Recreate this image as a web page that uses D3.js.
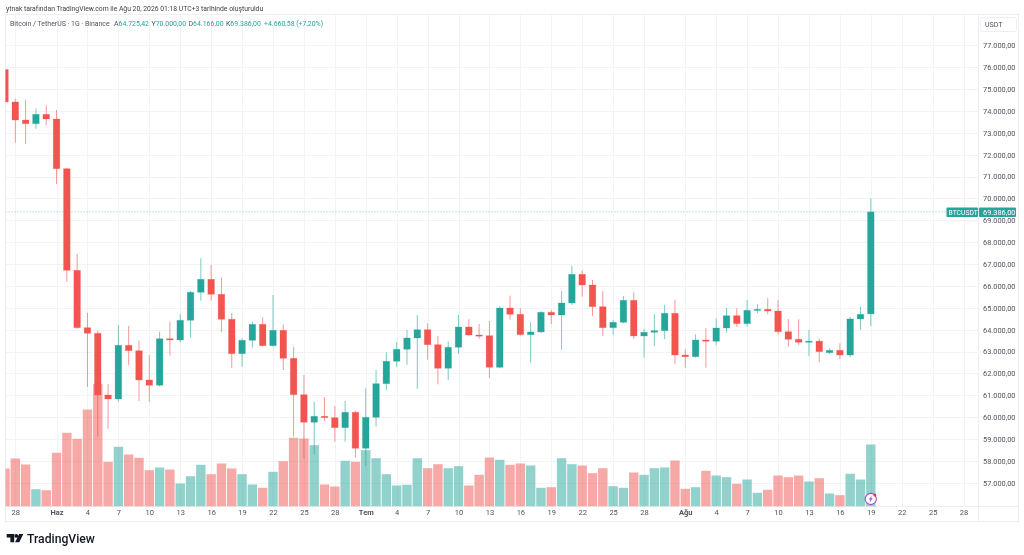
<!DOCTYPE html>
<html>
<head>
<meta charset="utf-8">
<script src="https://cdn.jsdelivr.net/npm/d3@7/dist/d3.min.js"></script>
<style>
  html, body { margin: 0; padding: 0; background: #fff; }
  svg { display: block; filter: blur(.3px); }
  text { font-family: Roboto, "Open Sans", sans-serif; fill: #50535e; }
  .axis path, .axis line { display: none; }
</style>
</head>
<body>
<div id="chart"></div>
<script>
// daily candles, 27 May - 19 Aug 2026
var startDay = '2026-05-27', endDay = '2026-08-20';
var opens = [75894,74409,73586,73417,73846,73632,71360,66717,64094,63838,61018,60836,63290,63043,61704,61462,63591,63532,64432,65712,66306,65620,64478,62906,63518,64249,63272,63975,62696,61032,59771,60045,59981,59524,60228,58583,59999,61535,62559,63107,63623,64003,63317,62239,63198,64126,63760,63729,62284,64994,64706,63774,63898,64798,64674,65223,66534,66045,65054,64094,64341,65346,63715,63884,63957,64752,62846,62769,63532,63473,64080,64643,64277,64889,64935,64857,63911,63564,63440,63480,62950,63061,62846,64492,64725];
var highs = [75900,74559,74500,74102,74258,74043,71400,67462,64766,63957,61521,64217,64172,63500,62846,63911,64368,64720,65771,67266,66959,66397,64766,63610,64368,64569,65588,64231,63212,61932,60712,60927,60516,60744,60300,61325,62161,62970,63427,63989,64674,64295,63715,63473,64674,64478,64263,64400,65072,65557,64981,64341,64840,64903,65771,66928,66699,66274,65771,64446,65543,65712,64048,64720,65145,65374,63121,63792,64067,64524,64994,64981,65360,65163,65451,65360,64492,64478,63989,63591,63153,63381,64583,65040,70000];
var lows = [74400,72549,72489,73188,73357,70661,66196,64050,61384,59113,59465,60712,62376,60744,60712,61400,62815,63409,63655,65328,65328,63898,62252,62312,63180,63230,63230,62161,59113,58107,58308,59830,58884,58884,58171,57774,59570,61247,62312,62403,61293,62632,61507,61704,62892,63720,63591,61809,62240,64460,63730,62495,63860,64263,63075,65131,65511,64629,63715,63774,64295,63578,62723,63258,63578,62435,62266,62730,62266,63290,63866,64126,64140,64752,64706,63774,63226,63303,62801,62513,62892,62664,62741,64003,64166];
var closes = [74409,73586,73417,73846,73632,71360,66717,64094,63838,61018,60836,63290,63043,61704,61462,63591,63532,64432,65712,66306,65620,64478,62906,63518,64249,63272,63975,62696,61032,59771,60045,59981,59524,60228,58583,59999,61535,62559,63107,63623,64003,63317,62239,63198,64126,63760,63729,62284,64994,64706,63774,63898,64798,64674,65223,66534,66045,65054,64094,64341,65346,63715,63884,63957,64752,62846,62769,63532,63473,64080,64643,64277,64889,64935,64857,63911,63564,63427,63480,62997,63061,62846,64492,64706,69386];
var volumes = [38,48,42,17.3,16.3,53.7,73.7,67.7,97,122.7,44.7,59.7,52,48.7,36.3,39,37,23,30.3,41.7,32.3,43,38,32.3,22,18.7,34.7,45.3,68.7,68,61.3,22,20,45.7,44.7,56.3,48.3,32.3,21,21.7,48.3,38.3,42.3,38.3,40.3,21,31.7,49,46.7,41.7,43,41,18.7,19.3,48.3,42.3,41,33.3,38.3,20.3,18.7,34,31.7,38.3,39,46,17.7,19.3,35.7,31,29.3,22.7,27,13.7,16.7,31,29.3,31,25,28.3,13,11.3,32.7,27,62];

var priceTicks = d3.range(57000, 78000, 1000);
var tickDays = ['2026-05-28','2026-06-01','2026-06-04','2026-06-07','2026-06-10','2026-06-13','2026-06-16','2026-06-19','2026-06-22','2026-06-25','2026-06-28','2026-07-01','2026-07-04','2026-07-07','2026-07-10','2026-07-13','2026-07-16','2026-07-19','2026-07-22','2026-07-25','2026-07-28','2026-08-01','2026-08-04','2026-08-07','2026-08-10','2026-08-13','2026-08-16','2026-08-19','2026-08-22','2026-08-25','2026-08-28'];
var tickLabels = ['28','Haz','4','7','10','13','16','19','22','25','28','Tem','4','7','10','13','16','19','22','25','28','Ağu','4','7','10','13','16','19','22','25','28'];

var lastPrice = 69386, lastOpen = 64725.42, lastHigh = 70000, lastLow = 64166, lastChange = 4660.58, lastPct = 7.20;

var UP = '#26a69a', DOWN = '#f25450', VOLDOWN = '#ef5350', GRID = '#f2f3f5', BORDER = '#eceef1';
var width = 1024, height = 555;
var pane = {left: 5.5, top: 14.5, right: 978.5, bottom: 506.5, outer: 1018, foot: 521.5};

var tr = d3.formatLocale({decimal: ',', thousands: '.', grouping: [3], currency: ['', '']});
var money = tr.format(',.2f');
var parseDay = d3.utcParse('%Y-%m-%d');

var days = d3.utcDay.range(parseDay(startDay), parseDay(endDay));
var tickDates = tickDays.map(parseDay);

var x = d3.scaleUtc().domain([days[0], days[days.length - 1]]).range([5, 870.8]);
var y = d3.scaleLinear().domain([57000, 77000]).range([482.9, 45.3]);
var v = d3.scaleLinear().domain([0, 100]).range([pane.bottom, pane.bottom - 100]);

var candles = days.map(function(d, i){
    return {day: d, o: opens[i], h: highs[i], l: lows[i], c: closes[i], vol: volumes[i], up: closes[i] >= opens[i]};
});

var svg = d3.select('#chart').append('svg').attr('width', width).attr('height', height);

svg.append('defs').append('clipPath').attr('id', 'pane')
    .append('rect')
    .attr('x', pane.left).attr('y', pane.top)
    .attr('width', pane.right - pane.left).attr('height', pane.bottom - pane.top);

// grid
var grid = svg.append('g').attr('stroke', GRID).attr('shape-rendering', 'crispEdges');
grid.selectAll('line.h').data(priceTicks).enter().append('line')
    .attr('x1', pane.left).attr('x2', pane.right)
    .attr('y1', function(d){ return Math.round(y(d)) + .5; })
    .attr('y2', function(d){ return Math.round(y(d)) + .5; });
grid.selectAll('line.v').data(tickDates).enter().append('line')
    .attr('y1', pane.top).attr('y2', pane.bottom)
    .attr('x1', function(d){ return Math.round(x(d)) + .5; })
    .attr('x2', function(d){ return Math.round(x(d)) + .5; });

// frame
var frame = svg.append('g').attr('stroke', BORDER).attr('fill', 'none').attr('shape-rendering', 'crispEdges');
frame.append('rect').attr('x', pane.left).attr('y', pane.top)
    .attr('width', pane.outer - pane.left).attr('height', pane.foot - pane.top);
frame.append('line').attr('x1', pane.left).attr('x2', pane.outer).attr('y1', pane.bottom).attr('y2', pane.bottom);
frame.append('line').attr('x1', pane.right).attr('x2', pane.right).attr('y1', pane.top).attr('y2', pane.foot);

var plot = svg.append('g').attr('clip-path', 'url(#pane)');

// volume
plot.append('g').selectAll('rect').data(candles).enter().append('rect')
    .attr('x', function(d){ return x(d.day) - 4.7; })
    .attr('width', 9.4)
    .attr('y', function(d){ return v(d.vol); })
    .attr('height', function(d){ return v(0) - v(d.vol); })
    .attr('fill', function(d){ return d.up ? UP : VOLDOWN; })
    .attr('fill-opacity', .5);

// last price line
plot.append('line')
    .attr('x1', pane.left).attr('x2', pane.right)
    .attr('y1', y(lastPrice)).attr('y2', y(lastPrice))
    .attr('stroke', UP).attr('stroke-opacity', .55).attr('stroke-dasharray', '1 2');

// candles
var candle = plot.append('g').selectAll('g').data(candles).enter().append('g');
candle.append('line')
    .attr('x1', function(d){ return x(d.day); })
    .attr('x2', function(d){ return x(d.day); })
    .attr('y1', function(d){ return y(d.h); })
    .attr('y2', function(d){ return y(d.l); })
    .attr('stroke', function(d){ return d.up ? UP : DOWN; })
    .attr('stroke-opacity', .6);
candle.append('rect')
    .attr('x', function(d){ return x(d.day) - 3.3; })
    .attr('width', 6.6)
    .attr('y', function(d){ return y(Math.max(d.o, d.c)); })
    .attr('height', function(d){ return Math.max(1.2, Math.abs(y(d.o) - y(d.c))); })
    .attr('fill', function(d){ return d.up ? UP : DOWN; })
    .attr('stroke', function(d){ return d.up ? UP : DOWN; })
    .attr('stroke-opacity', .3)
    .attr('stroke-width', .8);

// axes
var yAxis = svg.append('g').attr('class', 'axis')
    .attr('transform', 'translate(' + 979 + ',0)')
    .call(d3.axisRight(y).tickValues(priceTicks).tickSize(0).tickPadding(4).tickFormat(money));
yAxis.selectAll('text').attr('font-size', 7.4);

var xAxis = svg.append('g').attr('class', 'axis')
    .attr('transform', 'translate(0,' + 510 + ')')
    .call(d3.axisBottom(x).tickValues(tickDates).tickSize(0).tickPadding(0).tickFormat(function(d, i){ return tickLabels[i]; }));
xAxis.selectAll('text').attr('font-size', 7.5)
    .attr('font-weight', function(d, i){ return isNaN(+tickLabels[i]) ? 700 : 400; });

// last price tag
var tag = svg.append('g');
tag.append('rect').attr('x', 946.5).attr('y', y(lastPrice) - 4.5).attr('width', 31.5).attr('height', 9.5).attr('rx', 1).attr('fill', UP);
tag.append('rect').attr('x', 979).attr('y', y(lastPrice) - 4.5).attr('width', 37).attr('height', 9.5).attr('rx', 1).attr('fill', UP);
tag.append('text').attr('x', 948.5).attr('y', y(lastPrice) + 2.8).attr('font-size', 6.8).style('fill', '#fff').text('BTCUSDT');
tag.append('text').attr('x', 983).attr('y', y(lastPrice) + 2.8).attr('font-size', 7.4).style('fill', '#fff').text(money(lastPrice));

// currency button
svg.append('rect').attr('x', 980.5).attr('y', 17.5).attr('width', 36).attr('height', 14).attr('rx', 2)
    .attr('fill', '#fff').attr('stroke', BORDER);
svg.append('text').attr('x', 985).attr('y', 27).attr('font-size', 7).text('USDT');

// header
svg.append('text').attr('x', 6).attr('y', 11).attr('font-size', 6.8).style('fill', '#3d404a')
    .text('ytnak tarafından TradingView.com ile Ağu 20, 2026 01:18 UTC+3 tarihinde oluşturuldu');

var legend = svg.append('text').attr('x', 10).attr('y', 26).attr('font-size', 6.95);
legend.append('tspan').text('Bitcoin / TetherUS · 1G · Binance');
[['A', lastOpen], ['Y', lastHigh], ['D', lastLow], ['K', lastPrice]].forEach(function(p, i){
    legend.append('tspan').attr('x', [114, 151.5, 188.5, 226][i]).text(p[0]);
    legend.append('tspan').style('fill', UP).text(money(p[1]));
});
legend.append('tspan').attr('x', 264).style('fill', UP)
    .text('+' + money(lastChange) + ' (+' + tr.format('.2f')(lastPct) + '%)');

// replay badge on the last candle
var badge = svg.append('g').attr('transform', 'translate(' + x(days[days.length - 1]) + ',' + 499 + ')');
badge.append('circle').attr('r', 5.6).attr('fill', '#fff').attr('stroke', '#a64dc4').attr('stroke-width', 1.1);
badge.append('path').attr('d', 'M1,-3.2 L-2,0.6 L-0.3,0.6 L-1,3.2 L2,-0.8 L0.3,-0.8 Z').attr('fill', '#a64dc4');
badge.append('circle').attr('cx', 4).attr('cy', -4).attr('r', 1.5).attr('fill', '#f23645');

// TradingView logo
var logo = svg.append('g').attr('transform', 'translate(6.7,534)').attr('fill', '#131722');
logo.append('path').attr('d', 'M0,0 H7.5 V8.3 H3.7 V3.6 H0 Z');
logo.append('circle').attr('cx', 9.6).attr('cy', 1.9).attr('r', 1.9);
logo.append('path').attr('d', 'M12.4,0 H16.6 L12.6,8.3 H8.4 Z');
svg.append('text').attr('x', 27).attr('y', 542.6).attr('font-size', 12.2).attr('font-weight', 500)
    .style('fill', '#131722').text('TradingView');
</script>
</body>
</html>
